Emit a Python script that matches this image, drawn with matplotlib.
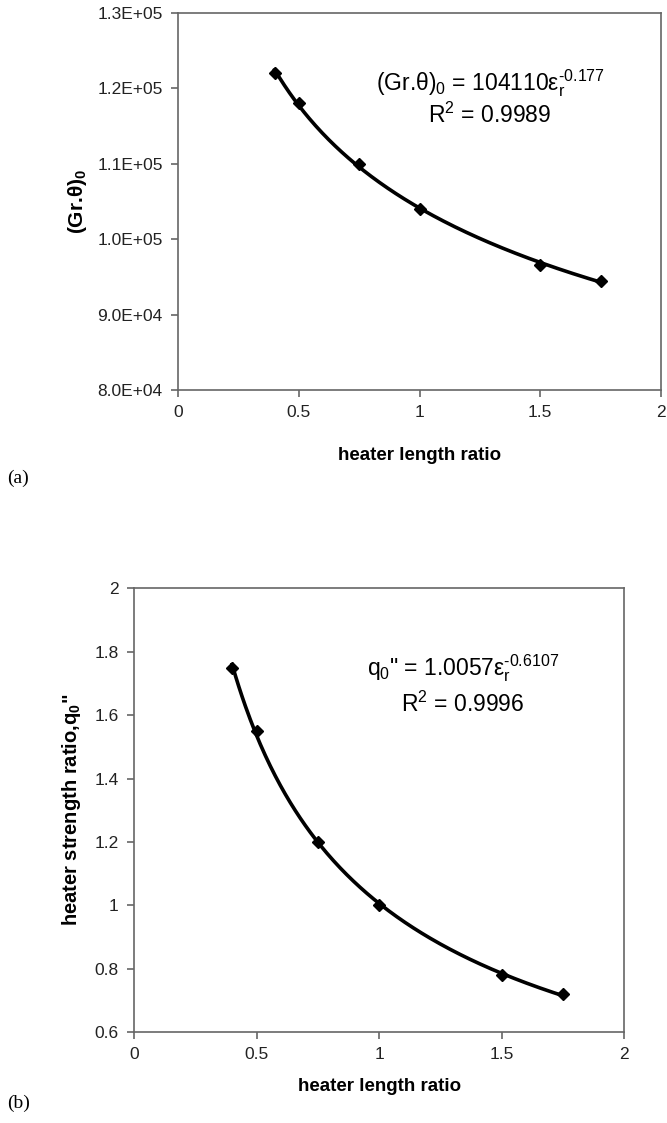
import numpy as np
import matplotlib
matplotlib.use('Agg')
import matplotlib.pyplot as plt

plt.rcParams['font.family'] = ['Liberation Sans', 'DejaVu Sans']
plt.rcParams['mathtext.fontset'] = 'custom'
plt.rcParams['mathtext.rm'] = 'Liberation Sans'
plt.rcParams['mathtext.it'] = 'Liberation Sans:italic'
plt.rcParams['mathtext.bf'] = 'Liberation Sans:bold'

# data
length_ratio = [0.4, 0.5, 0.75, 1.0, 1.5, 1.75]
gr_theta = [1.22e5, 1.18e5, 1.10e5, 1.04e5, 9.65e4, 9.45e4]
q_ratio = [1.75, 1.55, 1.20, 1.00, 0.78, 0.72]

# power trend lines as printed on the chart
fit_a = (104110, 1.0057)
fit_b = (-0.177, -0.6107)

top_yticks = [8.0e4, 9.0e4, 1.0e5, 1.1e5, 1.2e5, 1.3e5]
bot_yticks = [0.6, 0.8, 1.0, 1.2, 1.4, 1.6, 1.8, 2.0]
bot_ylabels = ['0.6', '0.8', '1', '1.2', '1.4', '1.6', '1.8', '2']
xticks = [0, 0.5, 1, 1.5, 2]
xlabels = ['0', '0.5', '1', '1.5', '2']

fig = plt.figure(figsize=(6.67, 11.23), dpi=100)
ax1 = fig.add_axes([0.267, 0.6527, 0.724, 0.336])
ax2 = fig.add_axes([0.201, 0.081, 0.735, 0.395])

xs = np.linspace(min(length_ratio), max(length_ratio), 200)
tick_col = '#222222'
spine_col = '#666666'

for ax, ys, a, b in [(ax1, gr_theta, fit_a[0], fit_b[0]), (ax2, q_ratio, fit_a[1], fit_b[1])]:
    ax.plot(xs, a * xs ** b, color='black', lw=2.6, zorder=2)
    ax.plot(length_ratio, ys, 'D', color='black', ms=6, zorder=3)
    ax.set_xlim(0, 2)
    ax.set_xticks(xticks)
    ax.set_xticklabels(xlabels)
    for s in ax.spines.values():
        s.set_color(spine_col)
        s.set_linewidth(1.2)
    ax.tick_params(direction='out', length=5, width=1.2, color=spine_col,
                   labelsize=12.5, labelcolor=tick_col, pad=6)

HY = '\u2010'  # plain hyphen for the exponents, as in the original

ax1.set_ylim(8.0e4, 1.3e5)
ax1.set_yticks(top_yticks)
ax1.set_yticklabels(['%.1E' % v for v in top_yticks])
ax1.set_xlabel('heater length ratio', fontsize=13.5, fontweight='bold', labelpad=19)
ax1.set_ylabel(r'(Gr.θ)$_\mathbf{0}$', fontsize=15, fontweight='bold', labelpad=6)
ax1.text(0.646, 0.795, '(Gr.θ)$_0$ = 104110ε$_\\mathrm{r}^\\mathrm{' + HY + '0.177}$',
         transform=ax1.transAxes, ha='center', va='baseline', fontsize=16.5)
ax1.text(0.646, 0.707, r'R$^2$ = 0.9989', transform=ax1.transAxes,
         ha='center', va='baseline', fontsize=16.5)

ax2.set_ylim(0.6, 2.0)
ax2.set_yticks(bot_yticks)
ax2.set_yticklabels(bot_ylabels)
ax2.set_xlabel('heater length ratio', fontsize=13.5, fontweight='bold', labelpad=11)
ax2.set_ylabel(r'heater strength ratio,q$_\mathbf{0}$"', fontsize=14.5, fontweight='bold', labelpad=8)
ax2.text(0.671, 0.804, 'q$_0$" = 1.0057ε$_\\mathrm{r}^\\mathrm{' + HY + '0.6107}$',
         transform=ax2.transAxes, ha='center', va='baseline', fontsize=16.5)
ax2.text(0.671, 0.721, r'R$^2$ = 0.9996', transform=ax2.transAxes,
         ha='center', va='baseline', fontsize=16.5)

fig.text(0.010, 1 - 478 / 1123, '(a)', family='Liberation Serif', fontsize=14, va='center')
fig.text(0.010, 1 - 1103 / 1123, '(b)', family='Liberation Serif', fontsize=14, va='center')

fig.savefig('out.png', dpi=100)
